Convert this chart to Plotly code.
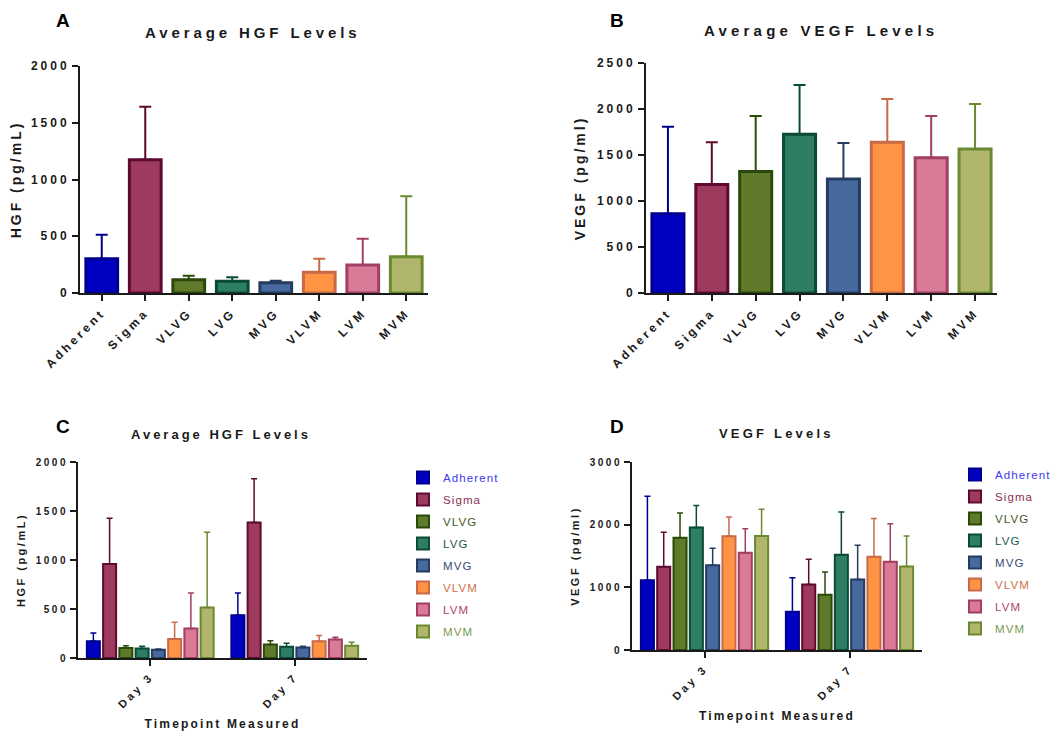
import plotly.graph_objects as go

# ---------------- data ----------------
groups = ["Adherent", "Sigma", "VLVG", "LVG", "MVG", "VLVM", "LVM", "MVM"]
days = ["Day 3", "Day 7"]

hgf_mean = [302, 1173, 117, 103, 91, 182, 246, 320]
hgf_upper = [513, 1642, 152, 138, 108, 302, 478, 853]

vegf_mean = [862, 1178, 1322, 1725, 1239, 1638, 1471, 1565]
vegf_upper = [1808, 1638, 1924, 2261, 1630, 2109, 1924, 2054]

hgf_day3 = [171, 959, 102, 96, 85, 195, 300, 515]
hgf_day3_upper = [256, 1427, 126, 119, 92, 365, 662, 1283]
hgf_day7 = [437, 1382, 137, 116, 106, 171, 188, 126]
hgf_day7_upper = [662, 1829, 177, 150, 119, 229, 212, 160]

vegf_day3 = [1115, 1327, 1790, 1954, 1354, 1816, 1551, 1821]
vegf_day3_upper = [2453, 1880, 2188, 2305, 1625, 2124, 1933, 2246]
vegf_day7 = [611, 1046, 882, 1519, 1126, 1487, 1407, 1333]
vegf_day7_upper = [1152, 1450, 1243, 2204, 1673, 2098, 2013, 1821]

# ---------------- styles ----------------
fills = ["#0000C0", "#9E3A5E", "#5E7A2A", "#2E7E66", "#46699E", "#FF9444", "#D97A96", "#B0B66C"]
borders = ["#00008E", "#5E0A30", "#2A4A0A", "#0A4A36", "#243C60", "#C86A48", "#A23E62", "#6A8A30"]
legend_txt = ["#3A3AF0", "#8A2E4E", "#405A1E", "#1A5848", "#3A4A72", "#D0704C", "#B0446C", "#7A9A50"]

FONT = "Liberation Sans, Arial, sans-serif"
INK = "#1a1a1a"


def ls(text, px):
    return f'<span style="letter-spacing:{px}px">{text}</span>'


# The page body has an 8px margin; target coordinates are window pixels.
OFF = 8
W, H = 1063 - OFF, 731 - OFF


def px_x(x):
    return (x - OFF) / W


def px_y(y):
    return 1 - (y - OFF) / H


fig = go.Figure()

# Panel A & B: single bars per category
for i, g in enumerate(groups):
    fig.add_trace(go.Bar(
        x=[g], y=[hgf_mean[i]], xaxis="x", yaxis="y",
        width=0.73, offset=-0.365,
        marker=dict(color=fills[i], line=dict(color=borders[i], width=3)),
        error_y=dict(type="data", symmetric=False, array=[hgf_upper[i] - hgf_mean[i]],
                     arrayminus=[0], color=borders[i], thickness=2, width=6),
        showlegend=False,
    ))
    fig.add_trace(go.Bar(
        x=[g], y=[vegf_mean[i]], xaxis="x2", yaxis="y2",
        width=0.73, offset=-0.365,
        marker=dict(color=fills[i], line=dict(color=borders[i], width=3)),
        error_y=dict(type="data", symmetric=False, array=[vegf_upper[i] - vegf_mean[i]],
                     arrayminus=[0], color=borders[i], thickness=2, width=6),
        showlegend=False,
    ))

# Panel C & D: grouped bars by day
for i, g in enumerate(groups):
    # trailing no-break spaces reserve room for the letter-spacing in the legend box
    name = (f'<span style="color:{legend_txt[i]};letter-spacing:1.1px">{g}</span>'
            '&nbsp;&nbsp;')
    ym = [hgf_day3[i], hgf_day7[i]]
    yu = [hgf_day3_upper[i], hgf_day7_upper[i]]
    fig.add_trace(go.Bar(
        x=days, y=ym, xaxis="x3", yaxis="y3", name=name,
        legend="legend", legendgroup=f"c{i}",
        marker=dict(color=fills[i], line=dict(color=borders[i], width=2)),
        error_y=dict(type="data", symmetric=False, array=[u - m for u, m in zip(yu, ym)],
                     arrayminus=[0, 0], color=borders[i], thickness=1.5, width=3),
    ))
    ym = [vegf_day3[i], vegf_day7[i]]
    yu = [vegf_day3_upper[i], vegf_day7_upper[i]]
    fig.add_trace(go.Bar(
        x=days, y=ym, xaxis="x4", yaxis="y4", name=name,
        legend="legend2", legendgroup=f"d{i}",
        marker=dict(color=fills[i], line=dict(color=borders[i], width=2)),
        error_y=dict(type="data", symmetric=False, array=[u - m for u, m in zip(yu, ym)],
                     arrayminus=[0, 0], color=borders[i], thickness=1.5, width=3),
    ))

axis_common = dict(showline=True, linecolor=INK, linewidth=2, ticks="outside",
                   ticklen=6, tickwidth=2, tickcolor=INK, showgrid=False,
                   zeroline=False, fixedrange=True, automargin=False)


def yaxis(domain_px, rng, dtick, title, size, tsize, sp, tsp, anchor):
    vals = list(range(0, rng + 1, dtick))
    return dict(axis_common, domain=[px_y(domain_px[0]), px_y(domain_px[1])], range=[0, rng],
                tickvals=vals, ticktext=[ls(str(v), sp) for v in vals], anchor=anchor,
                tickfont=dict(family=FONT, size=size, color=INK, weight="bold"),
                title=dict(text=ls(title, tsp), standoff=8,
                           font=dict(family=FONT, size=tsize, color=INK, weight="bold")))


def xaxis(domain_px, cats, size, sp, anchor, title=None, tsize=12):
    d = dict(axis_common, domain=[px_x(domain_px[0]), px_x(domain_px[1])],
             type="category", range=[-0.5, len(cats) - 0.5], tickangle=-45,
             tickvals=cats, ticktext=[ls(c, sp) for c in cats], anchor=anchor,
             tickfont=dict(family=FONT, size=size, color=INK, weight="bold"))
    if title:
        d["title"] = dict(text=ls(title, 2.2), standoff=10,
                          font=dict(family=FONT, size=tsize, color=INK, weight="bold"))
    return d


layout = dict(
    width=W, height=H, margin=dict(l=0, r=0, t=0, b=0, autoexpand=False),
    paper_bgcolor="white", plot_bgcolor="white",
    barmode="group", bargap=0.1, bargroupgap=0.2,
    xaxis=xaxis((80, 428), groups, 12, 3.2, "y"),
    yaxis=yaxis((293, 66), 2000, 500, "HGF (pg/mL)", 12, 14, 3, 3, "x"),
    xaxis2=xaxis((646, 997), groups, 12, 3.2, "y2"),
    yaxis2=yaxis((293, 63), 2500, 500, "VEGF (pg/ml)", 12, 14, 3, 3, "x2"),
    xaxis3=xaxis((78, 367), days, 11, 3, "y3", "Timepoint Measured", 12),
    yaxis3=yaxis((658, 462), 2000, 500, "HGF (pg/mL)", 10, 11, 2.5, 2.5, "x3"),
    xaxis4=xaxis((632, 922), days, 11, 3, "y4", "Timepoint Measured", 12),
    yaxis4=yaxis((650, 462), 3000, 1000, "VEGF (pg/ml)", 10, 11, 2.5, 2.5, "x4"),
    legend=dict(x=px_x(403), y=px_y(463), xanchor="left", yanchor="top",
                tracegroupgap=3, bgcolor="rgba(0,0,0,0)",
                font=dict(family=FONT, size=11.5)),
    legend2=dict(x=px_x(955), y=px_y(460), xanchor="left", yanchor="top",
                 tracegroupgap=3, bgcolor="rgba(0,0,0,0)",
                 font=dict(family=FONT, size=11.5)),
)

annotations = []
for letter, (x, y) in zip("ABCD", [(63, 20), (617, 20), (63, 426), (617, 426)]):
    annotations.append(dict(text=letter, x=px_x(x), y=px_y(y), xref="paper", yref="paper",
                            showarrow=False, xanchor="center", yanchor="middle",
                            font=dict(family=FONT, size=19, color="black", weight="bold")))
for text, (x, y), size, sp in [("Average HGF Levels", (253, 33), 15, 3.9),
                               ("Average VEGF Levels", (821, 30), 15, 4.2),
                               ("Average HGF Levels", (221, 434), 13, 3),
                               ("VEGF Levels", (776, 433), 13, 3.2)]:
    annotations.append(dict(text=ls(text, sp), x=px_x(x), y=px_y(y), xref="paper", yref="paper",
                            showarrow=False, xanchor="center", yanchor="middle",
                            font=dict(family=FONT, size=size, color=INK, weight="bold")))
layout["annotations"] = annotations

fig.update_layout(layout)
fig.write_html("out.html")
